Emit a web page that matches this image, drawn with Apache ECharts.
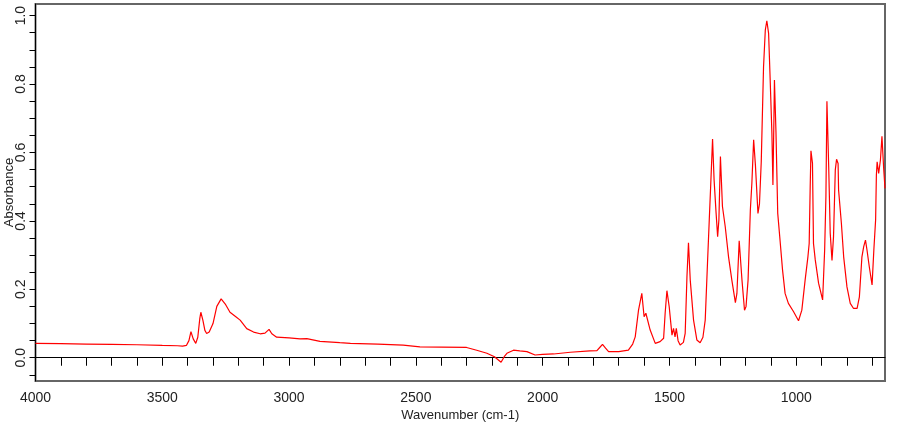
<!DOCTYPE html>
<html>
<head>
<meta charset="utf-8">
<script src="https://cdn.jsdelivr.net/npm/echarts@6/dist/echarts.min.js"></script>
<style>
html,body{margin:0;padding:0;background:#fff;}
#chart{width:910px;height:425px;}
</style>
</head>
<body>
<div id="chart"></div>
<script>
// Wavenumbers (cm-1), decreasing
const wavenumbers = [
4000,3900,3800,3700,3600,3500,3440,3420,3405,3395,3387,3378,3368,3360,3352,3348,3340,3332,3325,3315,
3300,3285,3268,3250,3233,3210,3193,3167,3140,3114,3095,3079,3068,3049,3000,2957,2930,2878,2800,2758,
2650,2550,2484,2400,2300,2260,2220,2190,2164,2150,2141,2115,2090,2062,2030,2000,1957,1891,1814,1786,
1775,1764,1752,1740,1700,1662,1645,1635,1622,1609,1600,1593,1589,1576,1556,1537,1523,1517,1510,1501,
1490,1484,1478,1473,1466,1458,1445,1438,1431,1425,1418,1405,1392,1379,1368,1359,1350,1343,1337,1330,
1324,1316,1310,1305,1299,1291,1280,1273,1267,1254,1240,1234,1225,1214,1204,1198,1190,1181,1175,1168,
1161,1151,1145,1138,1129,1122,1116,1109,1103,1096,1092,1088,1086,1080,1073,1064,1054,1044,1031,1011,
991,978,965,954,949,945,942,936,932,925,912,896,888,883,879,872,866,859,853,846,
841,835,833,822,813,800,787,774,760,751,741,734,727,721,712,701,694,687,684,681,
675,668,662,658,655,650
];
// Absorbance values
const absorbance = [
0.042,0.041,0.040,0.039,0.038,0.036,0.035,0.034,0.036,0.050,0.076,0.055,0.042,0.060,0.115,0.133,0.110,0.080,0.071,0.075,
0.100,0.150,0.172,0.155,0.133,0.120,0.110,0.085,0.075,0.070,0.072,0.083,0.070,0.060,0.058,0.055,0.056,0.048,0.044,0.042,
0.040,0.037,0.032,0.031,0.030,0.022,0.013,0.003,-0.013,0.005,0.013,0.022,0.020,0.018,0.008,0.010,0.011,0.016,0.020,0.021,
0.030,0.039,0.028,0.018,0.018,0.022,0.040,0.061,0.139,0.188,0.120,0.130,0.133,0.081,0.042,0.047,0.057,0.130,0.196,0.149,
0.066,0.086,0.061,0.086,0.050,0.037,0.045,0.071,0.237,0.336,0.227,0.110,0.052,0.044,0.060,0.110,0.276,0.403,0.510,0.639,
0.520,0.422,0.354,0.403,0.588,0.442,0.383,0.385,0.295,0.227,0.161,0.188,0.342,0.227,0.139,0.150,0.227,0.432,0.510,0.637,
0.563,0.422,0.450,0.573,0.850,0.958,0.985,0.948,0.817,0.656,0.505,0.700,0.812,0.661,0.422,0.344,0.256,0.188,0.159,0.135,
0.108,0.139,0.227,0.295,0.334,0.500,0.605,0.568,0.334,0.286,0.218,0.169,0.315,0.471,0.750,0.558,0.364,0.284,0.354,0.549,
0.580,0.568,0.490,0.393,0.295,0.207,0.159,0.144,0.144,0.178,0.295,0.325,0.344,0.315,0.266,0.213,0.315,0.403,0.534,0.573,
0.539,0.578,0.647,0.646,0.550,0.495
];
// Tick labels
const xTickLabels = [4000,3500,3000,2500,2000,1500,1000];
const xMinorTicks = [4000,3900,3800,3700,3600,3500,3400,3300,3200,3100,3000,2900,2800,2700,2600,2500,2400,2300,2200,2100,2000,1900,1800,1700,1600,1500,1400,1300,1200,1100,1000,900,800,700];
const yTickLabels = [0.0,0.2,0.4,0.6,0.8,1.0];
const yMinorTicks = [-0.05,0,0.05,0.1,0.15,0.2,0.25,0.3,0.35,0.4,0.45,0.5,0.55,0.6,0.65,0.7,0.75,0.8,0.85,0.9,0.95,1.0];

const points = wavenumbers.map((w,i)=>[w,absorbance[i]]);

const chart = echarts.init(document.getElementById('chart'), null, {renderer:'canvas'});
const font = 'Liberation Sans, Arial, sans-serif';
chart.setOption({
  animation:false,
  backgroundColor:'#fff',
  grid:{left:35.5,right:25,top:4,bottom:44,show:true,borderColor:'#666',borderWidth:2,backgroundColor:'transparent',
    containLabel:false, outerBoundsMode:'none'},
  xAxis:{
    type:'value', inverse:true, min:650, max:4000,
    name:'Wavenumber (cm-1)', nameLocation:'middle', nameGap:28, nameMoveOverlap:false,
    nameTextStyle:{fontFamily:font,fontSize:13,color:'#222'},
    axisLine:{show:true,lineStyle:{color:'#000',width:1}},
    axisTick:{show:true,inside:false,length:8,customValues:xMinorTicks,lineStyle:{color:'#000'}},
    axisLabel:{customValues:xTickLabels,fontFamily:font,fontSize:14,color:'#222',margin:10,
      formatter:v=>String(Math.round(v))},
    splitLine:{show:false}
  },
  yAxis:{
    type:'value', min:-0.068, max:1.034,
    name:'Absorbance', nameLocation:'middle', nameGap:20, nameRotate:90, nameMoveOverlap:false,
    nameTextStyle:{fontFamily:font,fontSize:13,color:'#222'},
    axisLine:{show:true,lineStyle:{color:'#000',width:1}},
    axisTick:{show:true,inside:false,length:6,customValues:yMinorTicks,lineStyle:{color:'#000'}},
    axisLabel:{customValues:yTickLabels,rotate:90,fontFamily:font,fontSize:14,color:'#222',margin:7,
      formatter:v=>Number(v).toFixed(1)},
    splitLine:{show:false}
  },
  series:[{
    type:'line', data:points, showSymbol:false, symbol:'none',
    lineStyle:{color:'#ff0000',width:1.2}, smooth:false, clip:true
  }]
});
</script>
</body>
</html>
